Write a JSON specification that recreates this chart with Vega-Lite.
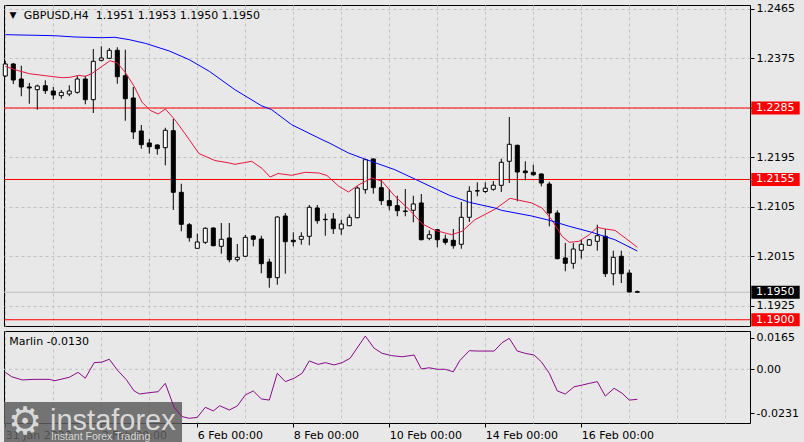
{
  "$schema": "https://vega.github.io/schema/vega-lite/v6.json",
  "background": "#e8e8e8",
  "padding": {"left": 2, "top": 2, "right": 6, "bottom": 4},
  "spacing": 3,
  "config": {
    "view": {"stroke": "#000000", "strokeWidth": 1, "fill": "#e8e8e8"},
    "font": "DejaVu Sans",
    "scale": {"continuousPadding": 0},
    "axis": {"labelFont": "DejaVu Sans", "labelFontSize": 11, "labelColor": "#000000", "tickColor": "#000000", "tickSize": 4, "gridColor": "#c2c2c2", "gridDash": [3, 3], "gridWidth": 1, "domain": false, "title": null}
  },
  "datasets": {
    "candles": [
      {"k":0,"o":1.23432,"h":1.23705,"l":1.23414,"c":1.23650},
      {"k":1,"o":1.23650,"h":1.23668,"l":1.23286,"c":1.23359},
      {"k":2,"o":1.23377,"h":1.23619,"l":1.23063,"c":1.23232},
      {"k":3,"o":1.23232,"h":1.23305,"l":1.22928,"c":1.23214},
      {"k":4,"o":1.23183,"h":1.23274,"l":1.22819,"c":1.23250},
      {"k":5,"o":1.23255,"h":1.23354,"l":1.23105,"c":1.23165},
      {"k":6,"o":1.23159,"h":1.23232,"l":1.23001,"c":1.23086},
      {"k":7,"o":1.23074,"h":1.23177,"l":1.23019,"c":1.23135},
      {"k":8,"o":1.23105,"h":1.23263,"l":1.23063,"c":1.23159},
      {"k":9,"o":1.23135,"h":1.23437,"l":1.23110,"c":1.23377},
      {"k":10,"o":1.23377,"h":1.23437,"l":1.22917,"c":1.23001},
      {"k":11,"o":1.23001,"h":1.23923,"l":1.22759,"c":1.23699},
      {"k":12,"o":1.23717,"h":1.23972,"l":1.23699,"c":1.23759},
      {"k":13,"o":1.23754,"h":1.23941,"l":1.23740,"c":1.23899},
      {"k":14,"o":1.23899,"h":1.23954,"l":1.23292,"c":1.23419},
      {"k":15,"o":1.23437,"h":1.23910,"l":1.22619,"c":1.23019},
      {"k":16,"o":1.23032,"h":1.23232,"l":1.22286,"c":1.22414},
      {"k":17,"o":1.22432,"h":1.22541,"l":1.22110,"c":1.22183},
      {"k":18,"o":1.22214,"h":1.22286,"l":1.22019,"c":1.22146},
      {"k":19,"o":1.22177,"h":1.22190,"l":1.22001,"c":1.22110},
      {"k":20,"o":1.22128,"h":1.22492,"l":1.21808,"c":1.22445},
      {"k":21,"o":1.22437,"h":1.22650,"l":1.20995,"c":1.21317},
      {"k":22,"o":1.21317,"h":1.21474,"l":1.20608,"c":1.20735},
      {"k":23,"o":1.20728,"h":1.20759,"l":1.20419,"c":1.20492},
      {"k":24,"o":1.20299,"h":1.20565,"l":1.20290,"c":1.20414},
      {"k":25,"o":1.20408,"h":1.20681,"l":1.20377,"c":1.20663},
      {"k":26,"o":1.20668,"h":1.20681,"l":1.20335,"c":1.20346},
      {"k":27,"o":1.20335,"h":1.20759,"l":1.20201,"c":1.20463},
      {"k":28,"o":1.20486,"h":1.20759,"l":1.20045,"c":1.20092},
      {"k":29,"o":1.20092,"h":1.20377,"l":1.20055,"c":1.20135},
      {"k":30,"o":1.20154,"h":1.20541,"l":1.20145,"c":1.20499},
      {"k":31,"o":1.20523,"h":1.20541,"l":1.20335,"c":1.20463},
      {"k":32,"o":1.20468,"h":1.20528,"l":1.19845,"c":1.20019},
      {"k":33,"o":1.20050,"h":1.20110,"l":1.19583,"c":1.19765},
      {"k":34,"o":1.19765,"h":1.20881,"l":1.19637,"c":1.20868},
      {"k":35,"o":1.20886,"h":1.20941,"l":1.19837,"c":1.20419},
      {"k":36,"o":1.20445,"h":1.20590,"l":1.20335,"c":1.20419},
      {"k":37,"o":1.20463,"h":1.20590,"l":1.20365,"c":1.20517},
      {"k":38,"o":1.20517,"h":1.21086,"l":1.20354,"c":1.21045},
      {"k":39,"o":1.21032,"h":1.21086,"l":1.20746,"c":1.20801},
      {"k":40,"o":1.20826,"h":1.20928,"l":1.20528,"c":1.20819},
      {"k":41,"o":1.20832,"h":1.20941,"l":1.20559,"c":1.20655},
      {"k":42,"o":1.20650,"h":1.20819,"l":1.20546,"c":1.20741},
      {"k":43,"o":1.20710,"h":1.20917,"l":1.20700,"c":1.20863},
      {"k":44,"o":1.20855,"h":1.21426,"l":1.20845,"c":1.21395},
      {"k":45,"o":1.21365,"h":1.21928,"l":1.21292,"c":1.21910},
      {"k":46,"o":1.21923,"h":1.21935,"l":1.21292,"c":1.21401},
      {"k":47,"o":1.21401,"h":1.21546,"l":1.21086,"c":1.21165},
      {"k":48,"o":1.21165,"h":1.21377,"l":1.20990,"c":1.21074},
      {"k":49,"o":1.21074,"h":1.21255,"l":1.20881,"c":1.20983},
      {"k":50,"o":1.20977,"h":1.21377,"l":1.20881,"c":1.20970},
      {"k":51,"o":1.20990,"h":1.21255,"l":1.20772,"c":1.21105},
      {"k":52,"o":1.21123,"h":1.21286,"l":1.20445,"c":1.20455},
      {"k":53,"o":1.20481,"h":1.20626,"l":1.20445,"c":1.20546},
      {"k":54,"o":1.20637,"h":1.20650,"l":1.20317,"c":1.20455},
      {"k":55,"o":1.20468,"h":1.20546,"l":1.20365,"c":1.20408},
      {"k":56,"o":1.20445,"h":1.20650,"l":1.20292,"c":1.20346},
      {"k":57,"o":1.20372,"h":1.21141,"l":1.20292,"c":1.20863},
      {"k":58,"o":1.20863,"h":1.21426,"l":1.20777,"c":1.21335},
      {"k":59,"o":1.21346,"h":1.21499,"l":1.21245,"c":1.21340},
      {"k":60,"o":1.21332,"h":1.21499,"l":1.21305,"c":1.21392},
      {"k":61,"o":1.21372,"h":1.21523,"l":1.21346,"c":1.21446},
      {"k":62,"o":1.21444,"h":1.21928,"l":1.21323,"c":1.21863},
      {"k":63,"o":1.21881,"h":1.22686,"l":1.21486,"c":1.22190},
      {"k":64,"o":1.22172,"h":1.22183,"l":1.21154,"c":1.21686},
      {"k":65,"o":1.21705,"h":1.21881,"l":1.21535,"c":1.21674},
      {"k":66,"o":1.21681,"h":1.21819,"l":1.21619,"c":1.21637},
      {"k":67,"o":1.21650,"h":1.21660,"l":1.21426,"c":1.21486},
      {"k":68,"o":1.21468,"h":1.21510,"l":1.20699,"c":1.20941},
      {"k":69,"o":1.20941,"h":1.20990,"l":1.20100,"c":1.20110},
      {"k":70,"o":1.20123,"h":1.20395,"l":1.19881,"c":1.20026},
      {"k":71,"o":1.20026,"h":1.20395,"l":1.19928,"c":1.20286},
      {"k":72,"o":1.20263,"h":1.20455,"l":1.20110,"c":1.20372},
      {"k":73,"o":1.20354,"h":1.20465,"l":1.20345,"c":1.20455},
      {"k":74,"o":1.20426,"h":1.20728,"l":1.20255,"c":1.20528},
      {"k":75,"o":1.20517,"h":1.20650,"l":1.19777,"c":1.19837},
      {"k":76,"o":1.19837,"h":1.20255,"l":1.19626,"c":1.20135},
      {"k":77,"o":1.20154,"h":1.20255,"l":1.19668,"c":1.19837},
      {"k":78,"o":1.19850,"h":1.19910,"l":1.19500,"c":1.19505},
      {"k":79,"o":1.19510,"h":1.19530,"l":1.19500,"c":1.19500}
    ],
    "ma_red": [
      {"k":0,"v":1.23608},{"k":1.2,"v":1.23546},{"k":3,"v":1.23474},{"k":5,"v":1.23437},{"k":7.1,"v":1.23401},{"k":8.1,"v":1.23408},{"k":9.2,"v":1.23444},{"k":10,"v":1.23426},{"k":10.8,"v":1.23474},{"k":12.1,"v":1.23608},{"k":13.1,"v":1.23710},{"k":14,"v":1.23668},{"k":15,"v":1.23499},{"k":16.1,"v":1.23245},{"k":17.1,"v":1.22954},{"k":18.1,"v":1.22808},{"k":19.1,"v":1.22741},{"k":20,"v":1.22832},{"k":21.2,"v":1.22637},{"k":23,"v":1.22274},{"k":24.2,"v":1.22023},{"k":26.2,"v":1.21895},{"k":28,"v":1.21850},{"k":28.7,"v":1.21826},{"k":30.8,"v":1.21881},{"k":32.1,"v":1.21750},{"k":33.1,"v":1.21595},{"k":34.1,"v":1.21659},{"k":35.8,"v":1.21626},{"k":37.5,"v":1.21681},{"k":39.2,"v":1.21668},{"k":40.2,"v":1.21623},{"k":41.7,"v":1.21426},{"k":42.9,"v":1.21323},{"k":44.2,"v":1.21455},{"k":45.8,"v":1.21577},{"k":47.1,"v":1.21517},{"k":48.7,"v":1.21245},{"k":50.5,"v":1.21001},{"k":52.1,"v":1.20746},{"k":53.7,"v":1.20626},{"k":55.8,"v":1.20546},{"k":57.1,"v":1.20608},{"k":58.7,"v":1.20819},{"k":61.2,"v":1.21008},{"k":63.1,"v":1.21208},{"k":65.8,"v":1.21123},{"k":67.1,"v":1.21032},{"k":68.3,"v":1.20819},{"k":69.6,"v":1.20517},{"k":70.5,"v":1.20408},{"k":71.7,"v":1.20426},{"k":73,"v":1.20546},{"k":74,"v":1.20681},{"k":75,"v":1.20650},{"k":76.2,"v":1.20626},{"k":77.5,"v":1.20486},{"k":79,"v":1.20317}
    ],
    "ma_blue": [
      {"k":0,"v":1.24183},{"k":3.7,"v":1.24172},{"k":6.2,"v":1.24164},{"k":8.7,"v":1.24141},{"k":12,"v":1.24128},{"k":13.7,"v":1.24135},{"k":15.5,"v":1.24092},{"k":17.5,"v":1.24026},{"k":20.5,"v":1.23886},{"k":23,"v":1.23728},{"k":25.5,"v":1.23517},{"k":28.7,"v":1.23183},{"k":32,"v":1.22892},{"k":33.3,"v":1.22819},{"k":35.8,"v":1.22546},{"k":39.6,"v":1.22274},{"k":40.5,"v":1.22214},{"k":42.9,"v":1.22032},{"k":44.9,"v":1.21923},{"k":48.7,"v":1.21728},{"k":51.7,"v":1.21523},{"k":55.5,"v":1.21263},{"k":58,"v":1.21135},{"k":61.2,"v":1.21032},{"k":62,"v":1.20990},{"k":65.8,"v":1.20886},{"k":68,"v":1.20808},{"k":70.5,"v":1.20699},{"k":73.3,"v":1.20590},{"k":76.2,"v":1.20455},{"k":79,"v":1.20250}
    ],
    "marlin": [
      {"k":0,"v":-0.0016},{"k":0.8,"v":-0.0039},{"k":2.1,"v":-0.0056},{"k":3.6,"v":-0.0053},{"k":5.5,"v":-0.0053},{"k":6.2,"v":-0.0060},{"k":8,"v":-0.0042},{"k":9.1,"v":-0.0016},{"k":10,"v":-0.0047},{"k":11.1,"v":0.0035},{"k":12.1,"v":0.0038},{"k":13,"v":0.0053},{"k":14,"v":-0.0004},{"k":15.1,"v":-0.0053},{"k":16.1,"v":-0.0114},{"k":16.8,"v":-0.0130},{"k":18,"v":-0.0123},{"k":19.1,"v":-0.0118},{"k":20,"v":-0.0074},{"k":21.1,"v":-0.0200},{"k":22.1,"v":-0.0249},{"k":23,"v":-0.0258},{"k":24,"v":-0.0253},{"k":25,"v":-0.0200},{"k":26,"v":-0.0219},{"k":26.8,"v":-0.0192},{"k":28,"v":-0.0214},{"k":29,"v":-0.0193},{"k":30,"v":-0.0135},{"k":31,"v":-0.0114},{"k":32,"v":-0.0156},{"k":33,"v":-0.0162},{"k":34,"v":-0.0021},{"k":35,"v":-0.0065},{"k":36.1,"v":-0.0047},{"k":37.1,"v":-0.0021},{"k":38,"v":0.0044},{"k":39.1,"v":0.0026},{"k":40,"v":0.0035},{"k":41.1,"v":0.0023},{"k":42.1,"v":0.0035},{"k":43.1,"v":0.0058},{"k":45,"v":0.0175},{"k":46.1,"v":0.0111},{"k":47.1,"v":0.0084},{"k":48.3,"v":0.0072},{"k":49.6,"v":0.0066},{"k":51.1,"v":0.0075},{"k":52,"v":0.0002},{"k":53,"v":0.0008},{"k":54,"v":0.0000},{"k":55,"v":0.0000},{"k":56,"v":-0.0013},{"k":56.8,"v":0.0045},{"k":58,"v":0.0098},{"k":59,"v":0.0096},{"k":60,"v":0.0096},{"k":61.1,"v":0.0096},{"k":62.1,"v":0.0140},{"k":63,"v":0.0163},{"k":64,"v":0.0096},{"k":65,"v":0.0084},{"k":66.1,"v":0.0075},{"k":67,"v":0.0040},{"k":68,"v":-0.0021},{"k":69,"v":-0.0114},{"k":70,"v":-0.0130},{"k":71.1,"v":-0.0092},{"k":72.1,"v":-0.0083},{"k":73,"v":-0.0074},{"k":74,"v":-0.0065},{"k":75,"v":-0.0141},{"k":76.1,"v":-0.0100},{"k":77.1,"v":-0.0126},{"k":78,"v":-0.0162},{"k":79,"v":-0.0158}
    ],
    "levels": [
      {"price":1.2285,"label":"1.2285","kind":"level"},
      {"price":1.2155,"label":"1.2155","kind":"level"},
      {"price":1.1900,"label":"1.1900","kind":"level"},
      {"price":1.1950,"label":"1.1950","kind":"current"}
    ]
  },
  "vconcat": [
    {
      "width": 746,
      "height": 321,
      "layer": [
        {
          "data": {"name": "levels"},
          "transform": [{"filter": "datum.kind == 'current'"}],
          "mark": {"type": "rule", "color": "#bdbdbd", "strokeWidth": 1},
          "encoding": {"y": {"field": "price", "type": "quantitative", "scale": {"domain": [1.188863, 1.247226], "zero": false, "nice": false, "padding": 0}}}
        },
        {
          "data": {"name": "levels"},
          "transform": [{"filter": "datum.kind == 'level'"}],
          "mark": {"type": "rule", "color": "#ff0000", "strokeWidth": 1},
          "encoding": {"y": {"field": "price", "type": "quantitative", "scale": {"domain": [1.188863, 1.247226], "zero": false, "nice": false, "padding": 0}}}
        },
        {
          "data": {"name": "candles"},
          "mark": {"type": "rule", "color": "#000000", "strokeWidth": 1},
          "encoding": {
            "x": {"field": "k", "type": "quantitative", "scale": {"domain": [-0.1625, 93.0875], "zero": false, "nice": false, "padding": 0},
                  "axis": {"values": [0,6,12,18,24,30,36,42,48,54,60,66,72,78,84,90], "labels": false, "ticks": false, "grid": true, "orient": "bottom"}},
            "y": {"field": "l", "type": "quantitative", "scale": {"domain": [1.188863, 1.247226], "zero": false, "nice": false, "padding": 0},
                  "axis": {"orient": "right", "values": [1.1925, 1.2015, 1.2105, 1.2195, 1.2285, 1.2375, 1.2465], "grid": true, "labelPadding": 2, "labelAlign": "left", "labelBaseline": "middle",
                           "labelExpr": "datum.value == 1.2285 ? '' : format(datum.value, '.4f')"}},
            "y2": {"field": "h"}
          }
        },
        {
          "data": {"name": "candles"},
          "mark": {"type": "bar", "width": 4, "stroke": "#000000", "strokeWidth": 1},
          "encoding": {
            "x": {"field": "k", "type": "quantitative", "scale": {"domain": [-0.1625, 93.0875], "zero": false, "nice": false, "padding": 0}},
            "y": {"field": "o", "type": "quantitative", "scale": {"domain": [1.188863, 1.247226], "zero": false, "nice": false, "padding": 0}},
            "y2": {"field": "c"},
            "fill": {"condition": {"test": "datum.c >= datum.o", "value": "#ffffff"}, "value": "#000000"}
          }
        },
        {
          "data": {"name": "ma_red"},
          "mark": {"type": "line", "color": "#e8173f", "strokeWidth": 1},
          "encoding": {
            "x": {"field": "k", "type": "quantitative", "scale": {"domain": [-0.1625, 93.0875], "zero": false, "nice": false, "padding": 0}},
            "y": {"field": "v", "type": "quantitative", "scale": {"domain": [1.188863, 1.247226], "zero": false, "nice": false, "padding": 0}}
          }
        },
        {
          "data": {"name": "ma_blue"},
          "mark": {"type": "line", "color": "#0000ff", "strokeWidth": 1},
          "encoding": {
            "x": {"field": "k", "type": "quantitative", "scale": {"domain": [-0.1625, 93.0875], "zero": false, "nice": false, "padding": 0}},
            "y": {"field": "v", "type": "quantitative", "scale": {"domain": [1.188863, 1.247226], "zero": false, "nice": false, "padding": 0}}
          }
        },
        {
          "data": {"name": "levels"},
          "mark": {"type": "bar", "orient": "horizontal", "height": 13},
          "encoding": {
            "x": {"datum": 93.25, "type": "quantitative", "scale": {"domain": [-0.1625, 93.0875], "zero": false, "nice": false, "padding": 0}},
            "x2": {"datum": 99.3},
            "y": {"field": "price", "type": "quantitative", "scale": {"domain": [1.188863, 1.247226], "zero": false, "nice": false, "padding": 0}},
            "fill": {"condition": {"test": "datum.kind == 'current'", "value": "#000000"}, "value": "#ff0000"}
          }
        },
        {
          "data": {"name": "levels"},
          "mark": {"type": "text", "align": "left", "baseline": "middle", "font": "DejaVu Sans", "fontSize": 11, "color": "#ffffff"},
          "encoding": {
            "x": {"datum": 93.84, "type": "quantitative", "scale": {"domain": [-0.1625, 93.0875], "zero": false, "nice": false, "padding": 0}},
            "y": {"field": "price", "type": "quantitative", "scale": {"domain": [1.188863, 1.247226], "zero": false, "nice": false, "padding": 0}},
            "text": {"field": "label"}
          }
        },
        {
          "data": {"values": [{"t": "▼"}]},
          "mark": {"type": "text", "align": "center", "baseline": "middle", "font": "DejaVu Sans", "fontSize": 9, "color": "#000000"},
          "encoding": {
            "x": {"datum": 0.96, "type": "quantitative", "scale": {"domain": [-0.1625, 93.0875], "zero": false, "nice": false, "padding": 0}},
            "y": {"datum": 1.24535, "type": "quantitative", "scale": {"domain": [1.188863, 1.247226], "zero": false, "nice": false, "padding": 0}},
            "text": {"field": "t"}
          }
        },
        {
          "data": {"values": [{"t": "GBPUSD,H4\u00a0\u00a01.1951 1.1953 1.1950 1.1950"}]},
          "mark": {"type": "text", "align": "left", "baseline": "middle", "font": "DejaVu Sans", "fontSize": 11, "color": "#000000"},
          "encoding": {
            "x": {"datum": 2.3, "type": "quantitative", "scale": {"domain": [-0.1625, 93.0875], "zero": false, "nice": false, "padding": 0}},
            "y": {"datum": 1.24528, "type": "quantitative", "scale": {"domain": [1.188863, 1.247226], "zero": false, "nice": false, "padding": 0}},
            "text": {"field": "t"}
          }
        }
      ]
    },
    {
      "width": 746,
      "height": 92,
      "layer": [
        {
          "data": {"values": [{"z": 0}]},
          "mark": {"type": "rule", "color": "#c2c2c2", "strokeDash": [3, 3], "strokeWidth": 1},
          "encoding": {"y": {"field": "z", "type": "quantitative", "scale": {"domain": [-0.028263, 0.020158], "zero": false, "nice": false, "padding": 0}}}
        },
        {
          "data": {"values": [{"t": "instaforex"}]},
          "mark": {"type": "rect", "color": "#5e5e5e", "opacity": 0.85},
          "encoding": {
            "x": {"datum": -0.1625, "type": "quantitative", "scale": {"domain": [-0.1625, 93.0875], "zero": false, "nice": false, "padding": 0}},
            "x2": {"datum": 22.09},
            "y": {"datum": -0.01721, "type": "quantitative", "scale": {"domain": [-0.028263, 0.020158], "zero": false, "nice": false, "padding": 0}},
            "y2": {"datum": -0.0422}
          }
        },
        {
          "data": {"values": [{"t": "⚙"}]},
          "mark": {"type": "text", "align": "center", "baseline": "middle", "font": "DejaVu Sans", "fontSize": 38, "color": "#d8d8d8"},
          "encoding": {
            "x": {"datum": 2.46, "type": "quantitative", "scale": {"domain": [-0.1625, 93.0875], "zero": false, "nice": false, "padding": 0}},
            "y": {"datum": -0.0283, "type": "quantitative", "scale": {"domain": [-0.028263, 0.020158], "zero": false, "nice": false, "padding": 0}},
            "text": {"field": "t"}
          }
        },
        {
          "data": {"values": [{"t": "instaforex"}]},
          "mark": {"type": "text", "align": "left", "baseline": "alphabetic", "font": "Liberation Sans", "fontSize": 29, "color": "#d8d8d8"},
          "encoding": {
            "x": {"datum": 5.59, "type": "quantitative", "scale": {"domain": [-0.1625, 93.0875], "zero": false, "nice": false, "padding": 0}},
            "y": {"datum": -0.03195, "type": "quantitative", "scale": {"domain": [-0.028263, 0.020158], "zero": false, "nice": false, "padding": 0}},
            "text": {"field": "t"}
          }
        },
        {
          "data": {"values": [{"t": "Instant Forex Trading"}]},
          "mark": {"type": "text", "align": "left", "baseline": "middle", "font": "Liberation Sans", "fontSize": 10.5, "color": "#d8d8d8"},
          "encoding": {
            "x": {"datum": 5.72, "type": "quantitative", "scale": {"domain": [-0.1625, 93.0875], "zero": false, "nice": false, "padding": 0}},
            "y": {"datum": -0.03563, "type": "quantitative", "scale": {"domain": [-0.028263, 0.020158], "zero": false, "nice": false, "padding": 0}},
            "text": {"field": "t"}
          }
        },
        {
          "data": {"name": "marlin"},
          "mark": {"type": "line", "color": "#8a0a8a", "strokeWidth": 1},
          "encoding": {
            "x": {"field": "k", "type": "quantitative", "scale": {"domain": [-0.1625, 93.0875], "zero": false, "nice": false, "padding": 0},
                  "axis": {"values": [0,6,12,18,24,30,36,42,48,54,60,66,72,78,84,90], "grid": true, "orient": "bottom", "labelAlign": "left", "labelBaseline": "top", "labelPadding": 2, "labelOverlap": false, "labelFlush": false,
                           "labelExpr": "datum.value == 0 ? '31 Jan 2022' : datum.value == 12 ? '2 Feb 00:00' : datum.value == 24 ? '6 Feb 00:00' : datum.value == 36 ? '8 Feb 00:00' : datum.value == 48 ? '10 Feb 00:00' : datum.value == 60 ? '14 Feb 00:00' : datum.value == 72 ? '16 Feb 00:00' : ''",
                           "tickOpacity": {"condition": {"test": "datum.value % 12 == 0 && datum.value <= 72", "value": 1}, "value": 0}}},
            "y": {"field": "v", "type": "quantitative", "scale": {"domain": [-0.028263, 0.020158], "zero": false, "nice": false, "padding": 0},
                  "axis": {"orient": "right", "values": [-0.0231, 0, 0.0165], "grid": false, "labelPadding": 2, "labelAlign": "left", "labelBaseline": "middle",
                           "labelExpr": "datum.value == 0 ? '0.00' : datum.value > 0 ? '0.0165' : '-0.0231'"}}
          }
        },
        {
          "data": {"values": [{"t": "Marlin -0.0130"}]},
          "mark": {"type": "text", "align": "left", "baseline": "middle", "font": "DejaVu Sans", "fontSize": 11, "color": "#000000"},
          "encoding": {
            "x": {"datum": 0.5, "type": "quantitative", "scale": {"domain": [-0.1625, 93.0875], "zero": false, "nice": false, "padding": 0}},
            "y": {"datum": 0.01453, "type": "quantitative", "scale": {"domain": [-0.028263, 0.020158], "zero": false, "nice": false, "padding": 0}},
            "text": {"field": "t"}
          }
        }
      ]
    }
  ]
}
